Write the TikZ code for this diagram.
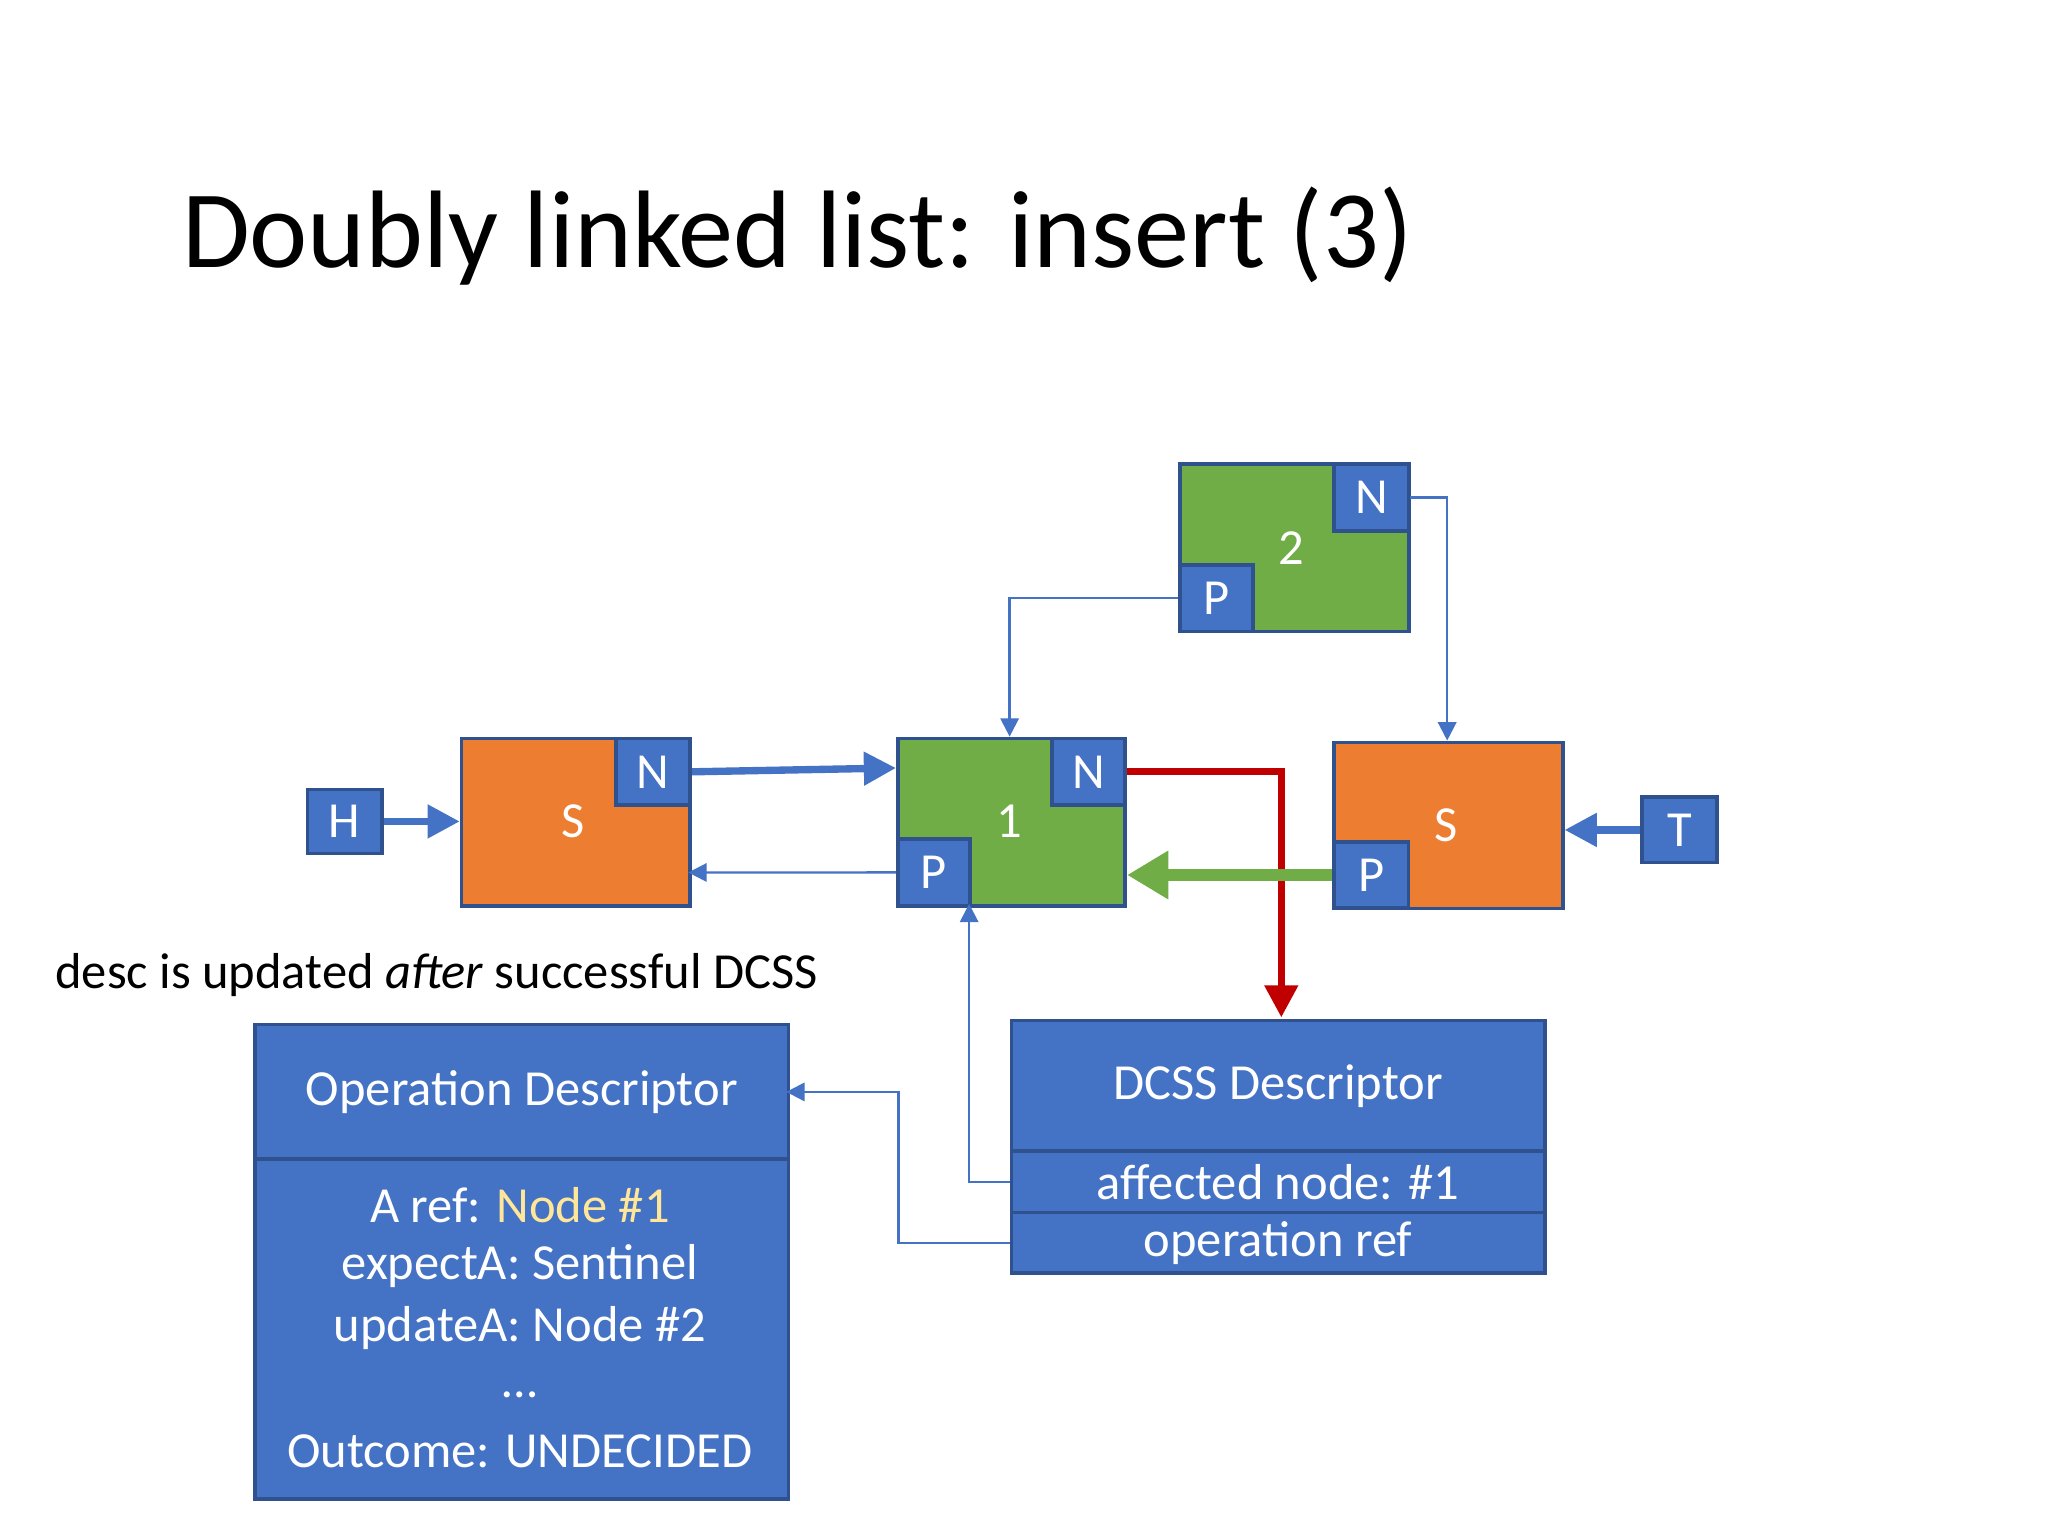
\documentclass[tikz,border=0pt]{standalone}
\usepackage{fontspec}
\setmainfont{Carlito}
\usetikzlibrary{arrows.meta}
\definecolor{bl}{HTML}{4472C4}
\definecolor{bd}{HTML}{2F528F}
\definecolor{og}{HTML}{ED7D31}
\definecolor{gr}{HTML}{70AD47}
\definecolor{rd}{HTML}{C00000}
\definecolor{yl}{HTML}{FFE699}
\begin{document}
\begin{tikzpicture}[x=0.01cm,y=-0.01cm,
  box/.style={draw=bd,line width=0.8pt,anchor=north west,inner sep=0pt,text=white,font=\fontsize{11}{13}\selectfont},
  thin/.style={draw=bl,line width=0.5pt,-{Triangle[length=4pt,width=4pt]}},
  thick/.style={line width=1.6pt,-{Triangle[length=7pt,width=7pt]}}]
\useasboundingbox (0,0) rectangle (1568,1176);
\node[anchor=base west,font=\fontsize{24}{28}\selectfont] (title) at (127,205) {Doubly linked list: insert (3)};
% nodes
\node[box,fill=bl,minimum width=0.57cm,minimum height=0.49cm] (H) at (234,603) {H};
\node[box,fill=og,minimum width=1.75cm,minimum height=1.28cm] (S1) at (352,564) {};
\node[box,fill=bl,minimum width=0.57cm,minimum height=0.51cm] (S1N) at (470,564) {N};
\node[text=white,font=\fontsize{11}{13}\selectfont] (S1t) at (439,629) {S};
\node[box,fill=gr,minimum width=1.74cm,minimum height=1.28cm] (A) at (686,564) {};
\node[box,fill=bl,minimum width=0.56cm,minimum height=0.51cm] (AN) at (804,564) {N};
\node[box,fill=bl,minimum width=0.55cm,minimum height=0.51cm] (AP) at (686,641) {P};
\node[text=white,font=\fontsize{11}{13}\selectfont] (At) at (773,629) {1};
\node[box,fill=gr,minimum width=1.75cm,minimum height=1.28cm] (B) at (902,354) {};
\node[box,fill=bl,minimum width=0.57cm,minimum height=0.51cm] (BN) at (1020,354) {N};
\node[box,fill=bl,minimum width=0.56cm,minimum height=0.51cm] (BP) at (902,431) {P};
\node[text=white,font=\fontsize{11}{13}\selectfont] (Bt) at (989,420) {2};
\node[box,fill=og,minimum width=1.75cm,minimum height=1.27cm] (S2) at (1020,567) {};
\node[box,fill=bl,minimum width=0.57cm,minimum height=0.51cm] (S2P) at (1020,643) {P};
\node[text=white,font=\fontsize{11}{13}\selectfont] (S2t) at (1107,632) {S};
\node[box,fill=bl,minimum width=0.57cm,minimum height=0.50cm] (T) at (1256,609) {T};
% connectors
\draw[thick,bl] (H.east) -- (S1.west|-H.east);
\draw[thick,bl] (S1N.east) -- (A.west|-0,588);
\draw[thin] (AP.west) -- (527,668);
\draw[thin] (BP.west) -| (773,564);
\draw[thin] (BN.east) -| (1108,567);
\draw[thick,rd] (AN.east) -| (981,779);
\draw[line width=2.4pt,gr,-{Triangle[length=9pt,width=10pt]}] (S2P.west) -- (A.east|-S2P.west);
\draw[thick,bl] (T.west) -- (S2.east|-T.west);
\node[anchor=base west,font=\fontsize{11}{13}\selectfont] (desc) at (30,757) {desc is updated \emph{after} successful DCSS};
% operation descriptor
\node[box,fill=bl,minimum width=4.08cm,minimum height=1.03cm] (OH) at (194,783) {Operation Descriptor};
\node[box,fill=bl,minimum width=4.08cm,minimum height=2.60cm,align=center] (OB) at (194,886) {};
\foreach \y/\t in {923/{A ref: \textcolor{yl}{Node \#1}},969/{expectA: Sentinel},1017/{updateA: Node \#2},1068/{\dots},1111/{Outcome: UNDECIDED}}
  \node[text=white,font=\fontsize{11}{13}\selectfont] at (398,\y) {\t};
% DCSS descriptor
\node[box,fill=bl,minimum width=4.08cm,minimum height=1.00cm] (DH) at (773,780) {DCSS Descriptor};
\node[box,fill=bl,minimum width=4.08cm,minimum height=0.47cm] (D1) at (773,880) {affected node: \#1};
\node[box,fill=bl,minimum width=4.08cm,minimum height=0.46cm] (D2) at (773,927) {operation ref};
\draw[thin] (D1.west) -| (742,692);
\draw[thin] (D2.west) -| (688,836) -- (602,836);
\end{tikzpicture}
\end{document}
